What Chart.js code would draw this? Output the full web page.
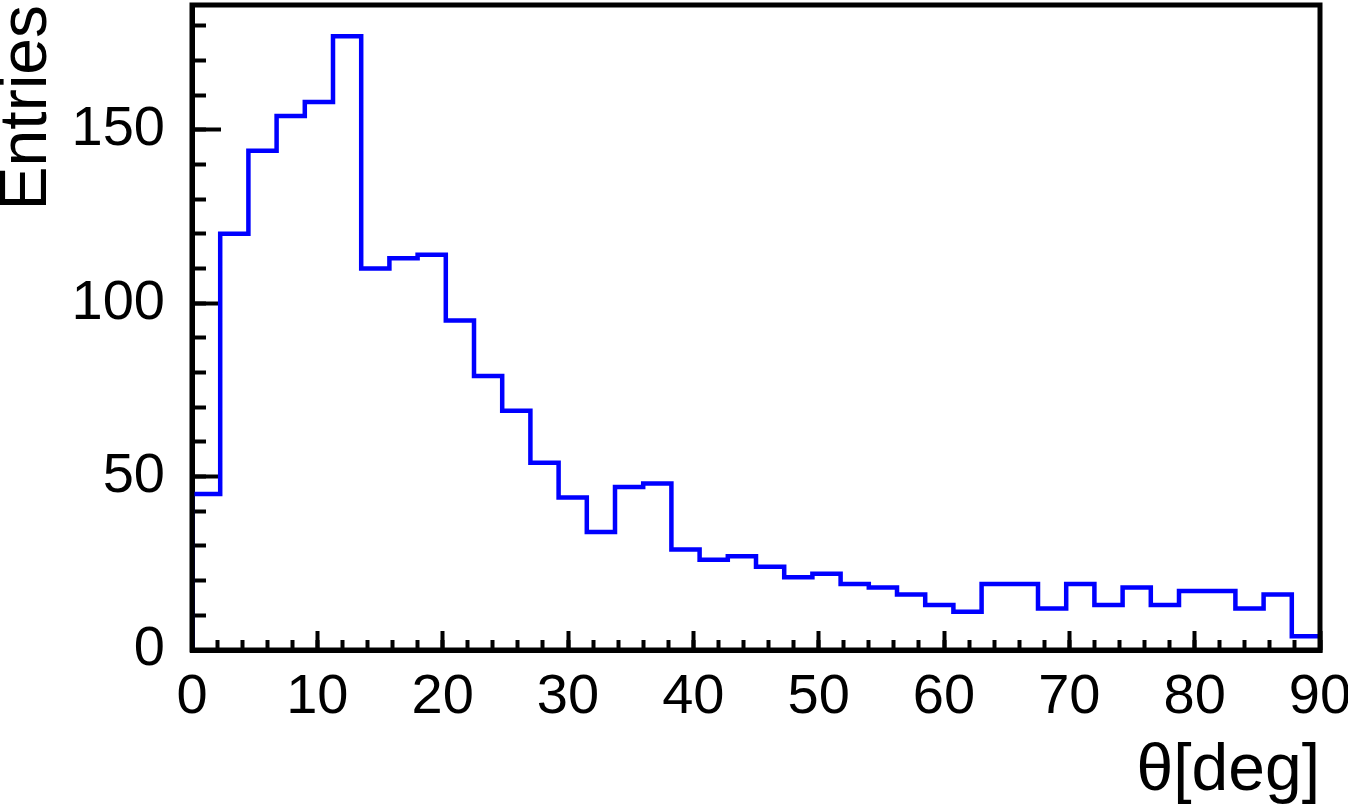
<!DOCTYPE html>
<html>
<head>
<meta charset="utf-8">
<script src="https://cdn.jsdelivr.net/npm/chart.js@4.4.1/dist/chart.umd.min.js"></script>
<style>
  html, body { margin: 0; padding: 0; background: #fff; }
  #wrap { width: 1348px; height: 810px; }
</style>
</head>
<body>
<div id="wrap"><canvas id="chartTheta" width="1348" height="810"></canvas></div>
<script>
// ── Data ─────────────────────────────────────────────────────────────────────
const BIN_WIDTH = 2.25;           // deg, 40 bins over 0–90
const X_RANGE   = [0, 90];
const Y_RANGE   = [0, 186];
const counts = [
  45, 120, 144, 154, 158, 177, 110, 113, 114, 95,
  79, 69, 54, 44, 34, 47, 48, 29, 26, 27,
  24, 21, 22, 19, 18, 16, 13, 11, 19, 19,
  12, 19, 13, 18, 13, 17, 17, 12, 16, 4,
];
const xTitle = 'θ[deg]';
const yTitle = 'Entries';

// ── Histogram outline as step points ─────────────────────────────────────────
const binEdges = counts.map((_, i) => i * BIN_WIDTH);
const points = [{ x: binEdges[0], y: 0 }]
  .concat(counts.map((c, i) => ({ x: binEdges[i], y: c })))
  .concat([{ x: X_RANGE[1], y: counts[counts.length - 1] }]);

const FONT = "'Liberation Sans', Arial, Helvetica, sans-serif";
const BLACK = '#000';

// fixed box sizes, no label overflow padding
const fixSize = (w, h) => s => {
  if (w !== null) s.width = w;
  if (h !== null) s.height = h;
  s.paddingTop = s.paddingBottom = s.paddingLeft = s.paddingRight = 0;
};

// ── Frame (top / right edges of the ROOT-style box) ─────────────────────────
const framePlugin = {
  id: 'frame',
  afterDraw(chart) {
    const { ctx, chartArea: a } = chart;
    ctx.save();
    ctx.strokeStyle = BLACK;
    ctx.lineWidth = 5;
    ctx.strokeRect(a.left, a.top, a.right - a.left, a.bottom - a.top);
    ctx.restore();
  },
};

new Chart(document.getElementById('chartTheta'), {
  type: 'line',
  data: {
    datasets: [{
      data: points,
      stepped: 'before',
      borderColor: '#0000ff',
      borderWidth: 4.5,
      pointRadius: 0,
      fill: false,
      xAxisID: 'x',
      yAxisID: 'y',
    }],
  },
  options: {
    responsive: false,
    devicePixelRatio: 1,
    animation: false,
    layout: { padding: { top: 5, right: 28, left: 0, bottom: 0 } },
    plugins: { legend: { display: false }, tooltip: { enabled: false } },
    scales: {
      x: {
        type: 'linear', position: 'bottom', weight: 1,
        min: X_RANGE[0], max: X_RANGE[1],
        afterFit: fixSize(null, 160),
        border: { display: true, color: BLACK, width: 5 },
        grid: { drawOnChartArea: false, tickLength: -19, tickWidth: 4, tickColor: BLACK },
        ticks: { stepSize: 10, includeBounds: false, color: BLACK, padding: 33, maxRotation: 0,
                 font: { family: FONT, size: 56 } },
        title: { display: true, text: xTitle, align: 'end', color: BLACK,
                 padding: { top: 0, bottom: 10 },
                 font: { family: FONT, size: 66, lineHeight: 0.85 } },
      },
      xMinor: {
        type: 'linear', position: 'bottom', weight: 0,
        min: X_RANGE[0], max: X_RANGE[1],
        afterFit: fixSize(null, 0),
        border: { display: false },
        grid: { drawOnChartArea: false, tickLength: -10, tickWidth: 4, tickColor: BLACK },
        ticks: { stepSize: 2, includeBounds: false, display: false, autoSkip: false, maxTicksLimit: 100 },
      },
      y: {
        type: 'linear', position: 'left', weight: 1,
        min: Y_RANGE[0], max: Y_RANGE[1],
        afterFit: fixSize(192, null),
        border: { display: true, color: BLACK, width: 5 },
        grid: { drawOnChartArea: false, tickLength: -29, tickWidth: 4, tickColor: BLACK },
        ticks: { stepSize: 50, includeBounds: false, color: BLACK, padding: 56,
                 font: { family: FONT, size: 56 } },
        title: { display: true, text: yTitle, align: 'end', color: BLACK,
                 padding: 0,
                 font: { family: FONT, size: 66, lineHeight: 0.85 } },
      },
      yMinor: {
        type: 'linear', position: 'left', weight: 0,
        min: Y_RANGE[0], max: Y_RANGE[1],
        afterFit: fixSize(0, null),
        border: { display: false },
        grid: { drawOnChartArea: false, tickLength: -14, tickWidth: 4, tickColor: BLACK },
        ticks: { stepSize: 10, includeBounds: false, display: false, autoSkip: false, maxTicksLimit: 100 },
      },
    },
  },
  plugins: [framePlugin],
});
</script>
</body>
</html>
